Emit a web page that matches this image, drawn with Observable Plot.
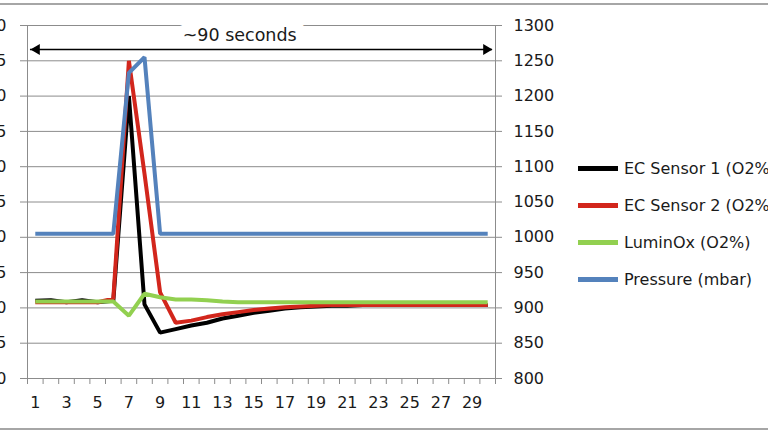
<!DOCTYPE html>
<html>
<head>
<meta charset="utf-8">
<script src="https://cdn.jsdelivr.net/npm/d3@7"></script>
<script src="https://cdn.jsdelivr.net/npm/@observablehq/plot@0.6"></script>
<style>
  html, body { margin: 0; padding: 0; background: #fff; }
  #wrap { position: relative; width: 768px; height: 432px; overflow: hidden; font-family: "DejaVu Sans", sans-serif; color: #1a1a1a; }
  #frame { position: absolute; left: 0; top: 3px; width: 768px; height: 423px; border-top: 2px solid #a6a6a6; border-bottom: 2px solid #a6a6a6; box-sizing: content-box; }
  #chart { position: absolute; left: -33px; top: 0; }
  #legend { position: absolute; left: 578px; top: 150px; font-size: 16px; white-space: nowrap; }
  .item { display: flex; align-items: center; height: 37px; }
  .swatch { width: 40px; height: 5px; margin-right: 6px; }
</style>
</head>
<body>
<div id="wrap">
  <div id="frame"></div>
  <div id="chart"></div>
  <div id="legend"></div>
</div>
<script>
// Categories (sample index)
const categories = [1,2,3,4,5,6,7,8,9,10,11,12,13,14,15,16,17,18,19,20,21,22,23,24,25,26,27,28,29,30];
// O2 % series (left axis)
const ecSensor1 = [21.1,21.11,21.08,21.11,21.08,21.1,24.0,21.05,20.65,20.70,20.75,20.79,20.85,20.89,20.93,20.96,20.99,21.01,21.02,21.03,21.03,21.04,21.04,21.04,21.04,21.04,21.04,21.04,21.04,21.04];
const ecSensor2 = [21.08,21.08,21.08,21.08,21.08,21.13,24.5,22.9,21.22,20.79,20.82,20.87,20.91,20.94,20.97,20.99,21.01,21.02,21.03,21.04,21.04,21.04,21.04,21.04,21.04,21.04,21.04,21.04,21.04,21.04];
const luminOx = [21.09,21.09,21.09,21.09,21.09,21.09,20.89,21.2,21.15,21.12,21.12,21.11,21.09,21.08,21.08,21.08,21.08,21.08,21.08,21.08,21.08,21.08,21.08,21.08,21.08,21.08,21.08,21.08,21.08,21.08];
// Pressure (mbar, right axis)
const pressure = [1005,1005,1005,1005,1005,1005,1233,1255,1005,1005,1005,1005,1005,1005,1005,1005,1005,1005,1005,1005,1005,1005,1005,1005,1005,1005,1005,1005,1005,1005];

const seriesNames = ["EC Sensor 1 (O2%)", "EC Sensor 2 (O2%)", "LuminOx (O2%)", "Pressure (mbar)"];
const seriesColors = ["#000000", "#d2261c", "#92d050", "#5482bc"];

// Axis ticks
const rightTicks = [800,850,900,950,1000,1050,1100,1150,1200,1250,1300];
const leftTickLabels = ["20.0","20.5","21.0","21.5","22.0","22.5","23.0","23.5","24.0","24.5","25.0"];
const xTickLabels = [1,3,5,7,9,11,13,15,17,19,21,23,25,27,29];

// Annotation
const annotationText = "~90 seconds";
const annotationPos = {x: 14.1, y: 1286};
const arrowY = 1266;
const arrowX = [0.69, 30.3];
const arrowHeadX = [1.09, 29.91];

// Left axis (O2 %) mapped onto the right (mbar) scale
const leftMin = 20, leftMax = 25;
const toRight = v => rightTicks[0] + (v - leftMin) * (rightTicks[rightTicks.length-1] - rightTicks[0]) / (leftMax - leftMin);

const o2Series = [ecSensor1, ecSensor2, luminOx];
const table = [];
o2Series.forEach((arr, i) => categories.forEach((c, j) => table.push({x: c, y: toRight(arr[j]), series: seriesNames[i]})));
categories.forEach((c, j) => table.push({x: c, y: pressure[j], series: seriesNames[3]}));

const edges = [categories[0] - 0.5, ...categories.map(c => c + 0.5)];
const xDomain = [edges[0], edges[edges.length - 1]];

const plot = Plot.plot({
  width: 801,
  height: 432,
  marginLeft: 60,
  marginRight: 273,
  marginTop: 25,
  marginBottom: 54,
  style: {fontFamily: "DejaVu Sans, sans-serif", fontSize: "16px", color: "#1a1a1a", background: "transparent", overflow: "visible"},
  x: {domain: xDomain, axis: null},
  y: {domain: [rightTicks[0], rightTicks[rightTicks.length-1]], axis: null},
  color: {domain: seriesNames, range: seriesColors},
  marks: [
    Plot.ruleY(rightTicks, {stroke: "#8c8c8c", strokeWidth: 1}),
    Plot.ruleX([xDomain[0], xDomain[1]], {stroke: "#8c8c8c", strokeWidth: 1}),
    Plot.axisY({anchor: "left", ticks: rightTicks, tickFormat: (d, i) => leftTickLabels[rightTicks.indexOf(d)], tickSize: 7, tickPadding: 14, stroke: "#8c8c8c", fill: "#1a1a1a", label: null}),
    Plot.axisY({anchor: "right", ticks: rightTicks, tickFormat: d => String(d), tickSize: 6, tickPadding: 12, textAnchor: "start", stroke: "#8c8c8c", fill: "#1a1a1a", label: null}),
    Plot.axisX({ticks: edges, tickFormat: () => "", tickSize: 6, stroke: "#8c8c8c", label: null}),
    Plot.axisX({ticks: xTickLabels, tickFormat: d => String(d), tickSize: 0, tickPadding: 18, fill: "#1a1a1a", label: null}),
    Plot.text([annotationText], {x: () => annotationPos.x, y: () => annotationPos.y, text: d => d, fontSize: 17.5, fill: "#1a1a1a", stroke: "white", strokeWidth: 20, strokeLinejoin: "round", paintOrder: "stroke"}),
    Plot.ruleY([arrowY], {x1: arrowX[0], x2: arrowX[1], stroke: "#000", strokeWidth: 1.6}),
    Plot.dot([arrowHeadX[0]], {x: d => d, y: () => arrowY, symbol: "triangle", r: 4, fill: "#000", stroke: "none", rotate: -90}),
    Plot.dot([arrowHeadX[1]], {x: d => d, y: () => arrowY, symbol: "triangle", r: 4, fill: "#000", stroke: "none", rotate: 90}),
    Plot.lineY(table, {x: "x", y: "y", z: "series", stroke: "series", strokeWidth: 4, strokeLinejoin: "miter", strokeLinecap: "butt"})
  ]
});
document.getElementById("chart").appendChild(plot);

const legend = document.getElementById("legend");
seriesNames.forEach((name, i) => {
  const item = document.createElement("div");
  item.className = "item";
  const sw = document.createElement("span");
  sw.className = "swatch";
  sw.style.background = seriesColors[i];
  const label = document.createElement("span");
  label.textContent = name;
  item.appendChild(sw);
  item.appendChild(label);
  legend.appendChild(item);
});
</script>
</body>
</html>
